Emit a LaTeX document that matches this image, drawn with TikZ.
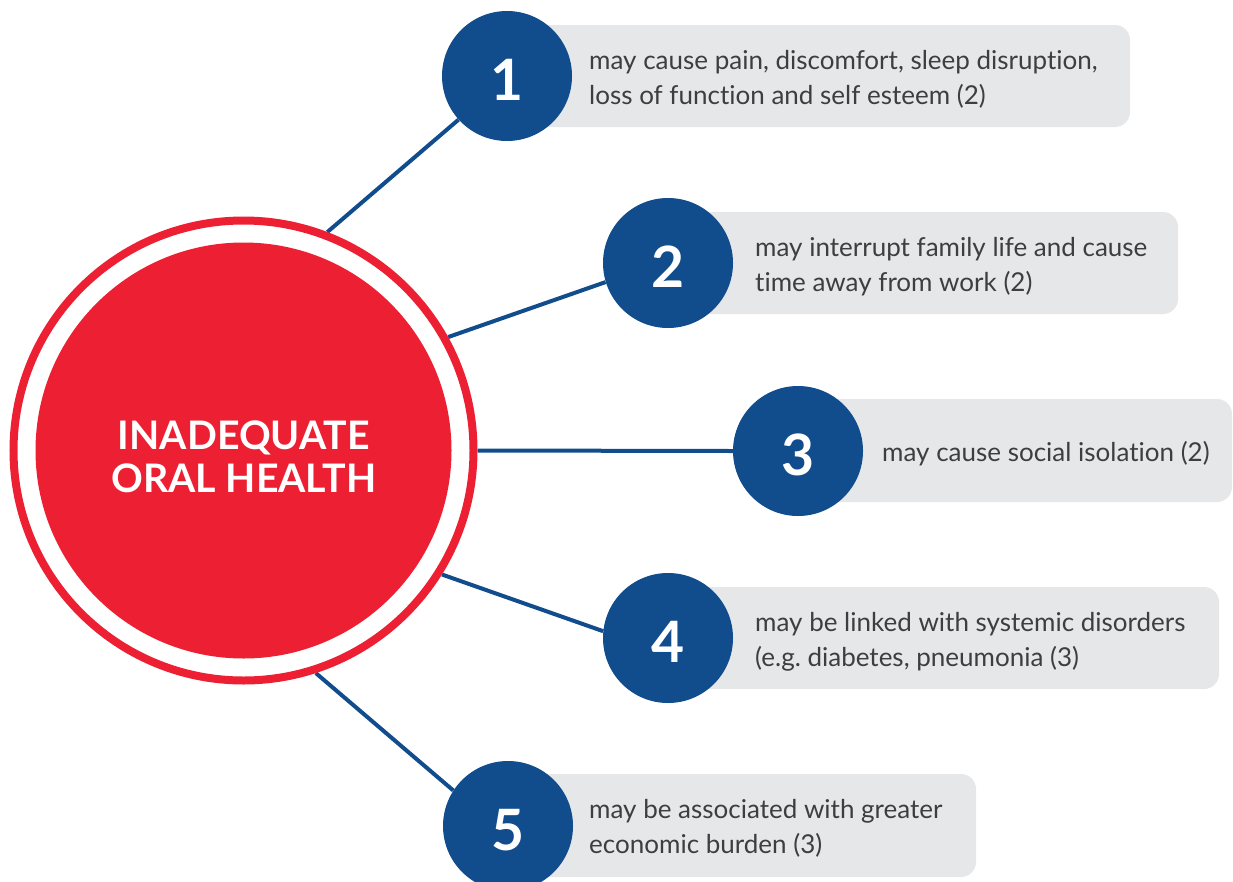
\documentclass[tikz,border=0pt]{standalone}
\usepackage{fontspec}
\setmainfont{Lato}[Ligatures={NoCommon}]
\definecolor{ohred}{RGB}{236,32,50}
\definecolor{ohblue}{RGB}{17,76,140}
\definecolor{ohgray}{RGB}{230,231,233}
\definecolor{ohtext}{RGB}{62,62,64}
\pgfdeclarelayer{bg}
\pgfsetlayers{bg,main}
\frenchspacing
\begin{document}
\begin{tikzpicture}[x=1pt,y=-1pt,
  infobox/.style={fill=ohgray, rounded corners=15pt},
  numdisc/.style={circle, fill=ohblue, minimum size=130pt, inner sep=0pt,
    text=white, font=\fontsize{57}{57}\selectfont\bfseries,
    text height=48pt, text depth=0pt},
  bodytext/.style={anchor=base west, inner sep=0pt, text=ohtext,
    font=\fontsize{26}{30}\selectfont},
  link/.style={draw=ohblue, line width=4pt}]
\useasboundingbox (0,0) rectangle (1233,881);

% central circle
\node[circle, draw=ohred, line width=8pt, minimum size=460pt, inner sep=0pt] (ring) at (243.5,450.5) {};
\node[circle, fill=ohred, minimum size=416pt, inner sep=0pt] (core) at (243.5,450.5) {};
\node[inner sep=0pt, align=center, text=white,
  font=\fontsize{39.3}{43}\selectfont\bfseries] (title) at (244,456.4)
  {INADEQUATE\\ORAL HEALTH};

% numbered discs
\node[numdisc] (c1) at (507,76) {1};
\node[numdisc] (c2) at (668,263) {2};
\node[numdisc] (c3) at (798,451) {3};
\node[numdisc] (c4) at (668,638) {4};
\node[numdisc] (c5) at (508,826) {5};

\begin{pgfonlayer}{bg}
  \fill[infobox] (507,25) rectangle (1130,127);
  \fill[infobox] (668,212) rectangle (1178,314);
  \fill[infobox] (798,399) rectangle (1232,502);
  \fill[infobox] (668,587) rectangle (1219,689);
  \fill[infobox] (508,774) rectangle (976,877);
  \draw[link] (ring.69.5) -- (c1.222.5);
  \draw[link] (ring.29) -- (c2.197);
  \draw[link] (ring.0) -- (c3.180);
  \draw[link] (ring.-32) -- (c4.174);
  \draw[link] (ring.-72) -- (c5.147);
\end{pgfonlayer}

% texts
\node[bodytext] (t1a) at (589,69) {may cause pain, discomfort, sleep disruption,};
\node[bodytext] (t1b) at (589,104) {loss of function and self esteem (2)};
\node[bodytext] (t2a) at (755,256) {may interrupt family life and cause};
\node[bodytext] (t2b) at (755,291) {time away from work (2)};
\node[bodytext] (t3a) at (882,461) {may cause social isolation (2)};
\node[bodytext] (t4a) at (755,631) {may be linked with systemic disorders};
\node[bodytext] (t4b) at (755,666) {(e.g.\ diabetes, pneumonia (3)};
\node[bodytext] (t5a) at (589,818) {may be associated with greater};
\node[bodytext] (t5b) at (589,853) {economic burden (3)};
\end{tikzpicture}
\end{document}
